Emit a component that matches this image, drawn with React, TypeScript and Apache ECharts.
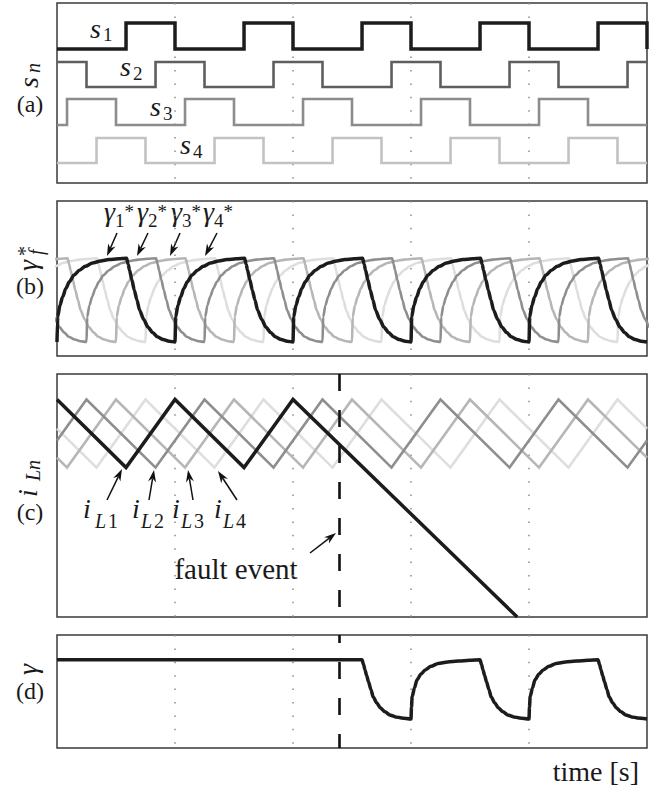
import React, { useEffect, useRef } from "react";
import * as echarts from "echarts";

// ---------------- time axis ----------------
const timeMin = 0;
const timeMax = 5;
const timeStep = 1;
const faultTime = 2.39;

// ---------------- (a) gate signals ----------------
const sInitial = [0, 1, 0, 0];
const s1Switch = [0.585, 1.0, 1.585, 2.0, 2.585, 3.0, 3.585, 4.0, 4.585, 5.0];
const s2Switch = [0.25, 0.835, 1.25, 1.835, 2.25, 2.835, 3.25, 3.835, 4.25, 4.835];
const s3Switch = [0.085, 0.5, 1.085, 1.5, 2.085, 2.5, 3.085, 3.5, 4.085, 4.5];
const s4Switch = [0.335, 0.75, 1.335, 1.75, 2.335, 2.75, 3.335, 3.75, 4.335, 4.75];
const sHigh = [8.0, 6.05, 4.2, 2.25];
const sLow = [6.7, 4.8, 2.9, 1.0];
const sAxisMax = 9;

// ---------------- (b) filtered references gamma*_n ----------------
// one period, offset from the rising instant, normalised (0 = low, 1 = high)
const gammaStarShape = [
  [0, 0], [0.006, 0.3], [0.025, 0.44], [0.048, 0.54], [0.075, 0.64], [0.105, 0.72], [0.145, 0.8],
  [0.19, 0.857], [0.24, 0.905], [0.3, 0.944], [0.37, 0.968], [0.44, 0.985], [0.52, 0.995], [0.59, 1.0],
  [0.603, 0.93], [0.615, 0.857], [0.635, 0.74], [0.655, 0.62], [0.678, 0.5], [0.7, 0.38], [0.735, 0.27],
  [0.77, 0.18], [0.81, 0.115], [0.85, 0.063], [0.9, 0.03], [0.95, 0.01], [1.0, 0],
];
const gamma1Rise = [0, 1, 2, 3, 4];
const gamma2Rise = [-0.75, 0.25, 1.25, 2.25, 3.25, 4.25];
const gamma3Rise = [-0.5, 0.5, 1.5, 2.5, 3.5, 4.5];
const gamma4Rise = [-0.25, 0.75, 1.75, 2.75, 3.75, 4.75];
const gammaStarLow = 0.9;
const gammaStarHigh = 6.3;

// ---------------- (c) inductor currents ----------------
const iL1 = [[0, 8.95], [0.585, 6.15], [1, 8.95], [1.585, 6.15], [2, 8.95], [3.9, 0]];
const iL2 = [[0, 7.26], [0.25, 8.95], [0.835, 6.15], [1.25, 8.95], [1.835, 6.15], [2.25, 8.95], [2.835, 6.15], [3.25, 8.95], [3.835, 6.15], [4.25, 8.95], [4.835, 6.15], [5, 7.26]];
const iL3 = [[0, 6.56], [0.085, 6.15], [0.5, 8.95], [1.085, 6.15], [1.5, 8.95], [2.085, 6.15], [2.5, 8.95], [3.085, 6.15], [3.5, 8.95], [4.085, 6.15], [4.5, 8.95], [5, 6.56]];
const iL4 = [[0, 7.75], [0.335, 6.15], [0.75, 8.95], [1.335, 6.15], [1.75, 8.95], [2.335, 6.15], [2.75, 8.95], [3.335, 6.15], [3.75, 8.95], [4.335, 6.15], [4.75, 8.95], [5, 7.75]];

// ---------------- (d) actual gamma (normalised) ----------------
const gammaD = [
  [0, 1], [2.585, 1], [2.598, 0.92], [2.61, 0.83], [2.625, 0.73], [2.64, 0.63], [2.66, 0.5], [2.68, 0.37],
  [2.71, 0.27], [2.74, 0.19], [2.78, 0.12], [2.82, 0.068], [2.87, 0.035], [2.92, 0.017], [3.0, 0],
  [3.004, 0.2], [3.01, 0.38], [3.03, 0.53], [3.05, 0.66], [3.085, 0.76], [3.12, 0.83], [3.17, 0.89], [3.23, 0.94], [3.31, 0.965], [3.4, 0.98], [3.5, 0.992], [3.585, 1],
  [3.598, 0.92], [3.61, 0.83], [3.625, 0.73], [3.64, 0.63], [3.66, 0.5], [3.68, 0.37],
  [3.71, 0.27], [3.74, 0.19], [3.78, 0.12], [3.82, 0.068], [3.87, 0.035], [3.92, 0.017], [4.0, 0],
  [4.004, 0.2], [4.01, 0.38], [4.03, 0.53], [4.05, 0.66], [4.085, 0.76], [4.12, 0.83], [4.17, 0.89], [4.23, 0.94], [4.31, 0.965], [4.4, 0.98], [4.5, 0.992], [4.585, 1],
  [4.598, 0.92], [4.61, 0.83], [4.625, 0.73], [4.64, 0.63], [4.66, 0.5], [4.68, 0.37],
  [4.71, 0.27], [4.74, 0.19], [4.78, 0.12], [4.82, 0.068], [4.87, 0.035], [4.92, 0.017], [5.0, 0],
];
const gammaLow = 2.57;
const gammaHigh = 7.8;

// ---------------- styles ----------------
const sColors = ["#1c1c1c", "#5e5e5e", "#8c8c8c", "#c2c2c2"];
const phaseColors = ["#1c1c1c", "#8e8e8e", "#b6b6b6", "#dedede"];
const SERIF = "Liberation Serif";

function stepData(init: number, switches: number[], hi: number, lo: number) {
  let state = init;
  const pts: number[][] = [[timeMin, state ? hi : lo]];
  for (const t of switches) {
    pts.push([t, state ? hi : lo]);
    state = 1 - state;
    pts.push([t, state ? hi : lo]);
  }
  pts.push([timeMax, state ? hi : lo]);
  return pts;
}

function periodic(rises: number[], shape: number[][], lo: number, hi: number) {
  const pts: number[][] = [];
  for (const r of rises) for (const [dt, v] of shape) pts.push([r + dt, lo + (hi - lo) * v]);
  return pts;
}

function scaleNorm(data: number[][], lo: number, hi: number) {
  return data.map(([t, v]) => [t, lo + (hi - lo) * v]);
}

function txt(text: string, x: number, y: number, size: number, italic = false, align = "left"): any {
  return {
    type: "text",
    x,
    y,
    silent: true,
    style: {
      text,
      fontFamily: SERIF,
      fontSize: size,
      fontStyle: italic ? "italic" : "normal",
      fill: "#1a1a1a",
      align,
      verticalAlign: "middle",
    },
  };
}

// gamma*_n label as one rich text: italic gamma, lowered digit and raised star
function gammaStarLabel(d: string, x: number, y: number): any {
  return {
    type: "text",
    x,
    y,
    silent: true,
    style: {
      text: `{g|γ}{d|${d}}{p|*}`,
      fill: "#1a1a1a",
      align: "left",
      verticalAlign: "middle",
      rich: {
        g: { fontFamily: SERIF, fontSize: 28, fontStyle: "italic", lineHeight: 38, verticalAlign: "middle", fill: "#1a1a1a" },
        d: { fontFamily: SERIF, fontSize: 19, verticalAlign: "bottom", fill: "#1a1a1a" },
        p: { fontFamily: SERIF, fontSize: 19, verticalAlign: "middle", fill: "#1a1a1a" },
      },
    },
  };
}

function arrow(x1: number, y1: number, x2: number, y2: number): any[] {
  const dx = x2 - x1;
  const dy = y2 - y1;
  const len = Math.hypot(dx, dy);
  const ux = dx / len;
  const uy = dy / len;
  const hl = 12;
  const hw = 4;
  const bx = x2 - ux * hl;
  const by = y2 - uy * hl;
  const ix = x2 - ux * hl * 0.7;
  const iy = y2 - uy * hl * 0.7;
  return [
    { type: "line", silent: true, shape: { x1, y1, x2: ix, y2: iy }, style: { stroke: "#111", lineWidth: 1.5 } },
    {
      type: "polygon",
      silent: true,
      shape: { points: [[x2, y2], [bx - uy * hw, by + ux * hw], [ix, iy], [bx + uy * hw, by - ux * hw]] },
      style: { fill: "#111" },
    },
  ];
}

const grids = [
  { top: 3, height: 180 },
  { top: 201, height: 155 },
  { top: 374, height: 243 },
  { top: 635, height: 113 },
];
const yMax = [sAxisMax, 10, 10, 10];

export default function App() {
  const ref = useRef<HTMLDivElement>(null);
  useEffect(() => {
    if (!ref.current) return;
    const chart = echarts.init(ref.current, undefined, { renderer: "svg" });

    const lineSeries = (name: string, grid: number, data: number[][], color: string, width: number, extra: any = {}) => ({
      name,
      type: "line",
      xAxisIndex: grid,
      yAxisIndex: grid,
      data,
      showSymbol: false,
      symbol: "none",
      clip: true,
      lineStyle: { color, width, cap: "butt", join: "miter" },
      emphasis: { disabled: true },
      ...extra,
    });

    const faultMark = (offset: number) => ({
      silent: true,
      symbol: ["none", "none"],
      label: { show: false },
      lineStyle: { color: "#111", width: 2.6, type: [17, 19], dashOffset: offset },
      data: [[{ coord: [faultTime, 10] }, { coord: [faultTime, 0] }]],
    });

    const sSwitches = [s1Switch, s2Switch, s3Switch, s4Switch];
    const gammaRises = [gamma1Rise, gamma2Rise, gamma3Rise, gamma4Rise];
    const iLs = [iL1, iL2, iL3, iL4];
    const widths = [3.5, 2.6, 2.6, 2.6];

    const series: any[] = [];
    for (let n = 0; n < 4; n++) {
      series.push(lineSeries(`s${n + 1}`, 0, stepData(sInitial[n], sSwitches[n], sHigh[n], sLow[n]), sColors[n], widths[n]));
    }
    for (let n = 3; n >= 0; n--) {
      series.push(lineSeries(`gamma${n + 1}*`, 1, periodic(gammaRises[n], gammaStarShape, gammaStarLow, gammaStarHigh), phaseColors[n], widths[n], { smooth: 0.25, smoothMonotone: "x" }));
    }
    for (let n = 3; n >= 0; n--) {
      series.push(lineSeries(`iL${n + 1}`, 2, iLs[n], phaseColors[n], widths[n], n === 0 ? { markLine: faultMark(0) } : {}));
    }
    series.push(lineSeries("gamma", 3, scaleNorm(gammaD, gammaLow, gammaHigh), "#1c1c1c", 3.5, { smooth: 0.25, smoothMonotone: "x", markLine: faultMark(9) }));

    const graphic: any[] = [
      // (a) labels
      txt("s", 90, 28, 28, true), txt("1", 103, 34, 19),
      txt("s", 120, 66, 28, true), txt("2", 133, 73, 19),
      txt("s", 150, 106, 28, true), txt("3", 163, 113, 19),
      txt("s", 180, 144, 28, true), txt("4", 193, 151, 19),
      // (b) labels
      gammaStarLabel("1", 104, 211),
      gammaStarLabel("2", 137, 211),
      gammaStarLabel("3", 171, 211),
      gammaStarLabel("4", 203, 211),
      ...arrow(117, 233, 107, 256),
      ...arrow(148, 233, 137, 256),
      ...arrow(180, 233, 170, 256),
      ...arrow(217, 233, 205, 256),
      // (c) labels
      txt("i", 83, 508, 28, true), txt("L", 95, 521, 20, true), txt("1", 108, 521, 20),
      txt("i", 132, 508, 28, true), txt("L", 141, 521, 20, true), txt("2", 154, 521, 20),
      txt("i", 172, 508, 28, true), txt("L", 181, 521, 20, true), txt("3", 194, 521, 20),
      txt("i", 214, 508, 28, true), txt("L", 223, 521, 20, true), txt("4", 236, 521, 20),
      ...arrow(107, 500, 122, 469),
      ...arrow(149, 500, 154, 470),
      ...arrow(193, 500, 188, 470),
      ...arrow(237, 500, 218, 471),
      txt("fault event", 236, 569, 29, false, "center"),
      ...arrow(310, 553, 336, 533),
      // panel tags
      txt("(a)", 30, 104, 24, false, "center"),
      txt("(b)", 30, 286, 24, false, "center"),
      txt("(c)", 30, 512, 24, false, "center"),
      txt("(d)", 30, 691, 24, false, "center"),
      // rotated y labels
      { type: "group", x: 28, y: 88, rotation: Math.PI / 2, children: [txt("s", 0, 0, 28, true), txt("n", 15, 5, 20, true)] },
      {
        type: "group", x: 27, y: 271, rotation: Math.PI / 2,
        children: [txt("γ", 0, 0, 28, true), txt("*", 15, -2, 20), txt("f", 16, 9, 20, true)],
      },
      { type: "group", x: 27, y: 497, rotation: Math.PI / 2, children: [txt("i", 0, 0, 28, true), txt("Ln", 16, 6, 20, true)] },
      { type: "group", x: 27, y: 675, rotation: Math.PI / 2, children: [txt("γ", 0, 0, 28, true)] },
      // x label
      txt("time [s]", 639, 771, 28, false, "right"),
    ];

    chart.setOption({
      animation: false,
      backgroundColor: "#ffffff",
      grid: grids.map((g) => ({
        left: 57,
        width: 590,
        top: g.top,
        height: g.height,
        show: true,
        borderColor: "#3a3a3a",
        borderWidth: 1.5,
        backgroundColor: "transparent",
        containLabel: false,
      })),
      xAxis: grids.map((_, i) => ({
        type: "value",
        gridIndex: i,
        min: timeMin,
        max: timeMax,
        interval: timeStep,
        axisLine: { show: false },
        axisTick: { show: false },
        axisLabel: { show: false },
        splitLine: {
          show: true,
          showMinLine: false,
          showMaxLine: false,
          lineStyle: { color: "#8a8a8a", width: 1.5, type: [1.5, 11.9] },
        },
      })),
      yAxis: grids.map((_, i) => ({
        type: "value",
        gridIndex: i,
        min: 0,
        max: yMax[i],
        axisLine: { show: false },
        axisTick: { show: false },
        axisLabel: { show: false },
        splitLine: { show: false },
      })),
      series,
      graphic,
    });
    return () => chart.dispose();
  }, []);
  return <div ref={ref} style={{ position: "fixed", left: 0, top: 0, width: 655, height: 790 }} />;
}
